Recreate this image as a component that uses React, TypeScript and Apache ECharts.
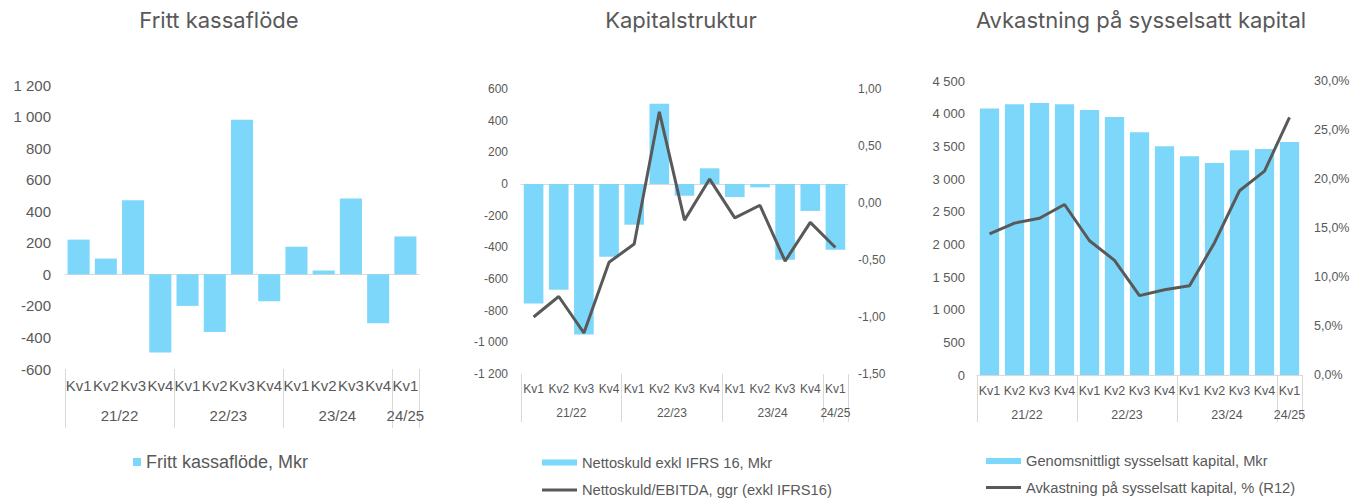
import React, { useEffect, useRef } from 'react';
import * as echarts from 'echarts';

const quarters = ['Kv1', 'Kv2', 'Kv3', 'Kv4', 'Kv1', 'Kv2', 'Kv3', 'Kv4', 'Kv1', 'Kv2', 'Kv3', 'Kv4', 'Kv1'];
const yearLabels = ['21/22', '22/23', '23/24', '24/25'];
const quartersPerYear = [4, 4, 4, 1];

const chartTitles = ['Fritt kassaflöde', 'Kapitalstruktur', 'Avkastning på sysselsatt kapital'];

const fcfName = 'Fritt kassaflöde, Mkr';
const fcf = [220, 100, 470, -495, -200, -365, 980, -170, 175, 25, 480, -310, 240];

const netDebtName = 'Nettoskuld exkl IFRS 16, Mkr';
const netDebt = [-755, -668, -950, -459, -257, 507, -74, 99, -82, -21, -478, -170, -415];
const ratioName = 'Nettoskuld/EBITDA, ggr (exkl IFRS16)';
const netDebtEbitda = [-1.0, -0.82, -1.14, -0.52, -0.36, 0.8, -0.15, 0.21, -0.13, -0.02, -0.51, -0.17, -0.39];

const capName = 'Genomsnittligt sysselsatt kapital, Mkr';
const capitalEmployed = [4080, 4145, 4165, 4145, 4055, 3950, 3715, 3500, 3350, 3245, 3440, 3460, 3565];
const roceName = 'Avkastning på sysselsatt kapital, % (R12)';
const roce = [14.4, 15.5, 16.0, 17.4, 13.7, 11.7, 8.1, 8.7, 9.1, 13.5, 18.8, 20.8, 26.3];

const BAR = '#7dd7fa';
const LINE = '#595959';
const TEXT = '#595959';
const AXIS = '#d9d9d9';
const FONT = '"Liberation Sans", Arial, sans-serif';
const TITLE_FONT = 'Inter, "Liberation Sans", sans-serif';

const boundaries: number[] = [0];
quartersPerYear.forEach((n) => boundaries.push(boundaries[boundaries.length - 1] + n));
const centers = quartersPerYear.map((n, i) => boundaries[i] + n / 2);

const fmtThousands = (v: number) =>
  (v < 0 ? '-' : '') + String(Math.abs(Math.round(v))).replace(/\B(?=(\d{3})+(?!\d))/g, ' ');

function xAxesFor(gridIndex: number, zeroY: number, fontSize: number, qMargin: number, yMargin: number, tickLen: number) {
  return [
    {
      gridIndex,
      type: 'category',
      data: quarters,
      position: 'bottom',
      axisLine: { show: true, onZero: true, onZeroAxisIndex: zeroY, lineStyle: { color: AXIS, width: 1 } },
      axisTick: { show: false },
      axisLabel: { show: false },
      splitLine: { show: false },
    },
    {
      gridIndex,
      type: 'category',
      data: quarters,
      position: 'bottom',
      axisLine: { show: false, onZero: false },
      axisTick: { show: false },
      splitLine: { show: false },
      axisLabel: { show: true, interval: 0, color: TEXT, fontSize, fontFamily: FONT, margin: qMargin },
    },
    {
      gridIndex,
      type: 'value',
      min: 0,
      max: quarters.length,
      position: 'bottom',
      axisLine: { show: false, onZero: false },
      splitLine: { show: false },
      axisTick: { show: true, customValues: boundaries, length: tickLen, inside: false, lineStyle: { color: AXIS, width: 1 } },
      axisLabel: {
        show: true,
        customValues: centers,
        formatter: (v: number) => {
          const i = centers.findIndex((c) => Math.abs(c - v) < 1e-6);
          return i >= 0 ? yearLabels[i] : '';
        },
        color: TEXT,
        fontSize,
        fontFamily: FONT,
        margin: yMargin,
      },
    },
  ];
}

function yAxis(gridIndex: number, min: number, max: number, interval: number, formatter: any, fontSize: number, margin: number, right = false) {
  return {
    gridIndex,
    type: 'value',
    position: right ? 'right' : 'left',
    min,
    max,
    interval,
    axisLine: { show: false },
    axisTick: { show: false },
    splitLine: { show: false },
    axisLabel: { formatter, color: TEXT, fontSize, fontFamily: FONT, margin, align: right ? 'left' : 'right' },
  };
}

function legendItem(name: string, left: number, top: number, w: number, h: number, fontSize: number, lineHeight: number) {
  return {
    data: [{ name, icon: 'rect' }],
    left,
    top,
    padding: 0,
    itemWidth: w,
    itemHeight: h,
    selectedMode: false,
    textStyle: { color: TEXT, fontSize, fontFamily: FONT, lineHeight },
  };
}

export default function App() {
  const ref = useRef<HTMLDivElement>(null);
  useEffect(() => {
    document.body.style.margin = '0';
    const chart = echarts.init(ref.current!, undefined, { renderer: 'svg' });
    const titleCenters = [219, 681, 1141];
    chart.setOption({
      animation: false,
      backgroundColor: '#ffffff',
      graphic: chartTitles.map((t, i) => ({
        type: 'text',
        x: titleCenters[i],
        y: 20,
        style: { text: t, fill: TEXT, fontSize: 22, fontFamily: TITLE_FONT, align: 'center', verticalAlign: 'middle' },
      })),
      grid: [
        { left: 65, top: 85, width: 354, height: 284, outerBoundsMode: 'none' },
        { left: 521, top: 89, width: 327, height: 285, outerBoundsMode: 'none' },
        { left: 977, top: 81, width: 325, height: 294, outerBoundsMode: 'none' },
      ],
      xAxis: [
        ...xAxesFor(0, 0, 15, 9, 39, 59),
        ...xAxesFor(1, 1, 12, 9, 33, 48),
        ...xAxesFor(2, 3, 12.5, 9, 33, 47),
      ],
      yAxis: [
        yAxis(0, -600, 1200, 200, fmtThousands, 15, 14),
        yAxis(1, -1200, 600, 200, fmtThousands, 12, 13),
        yAxis(1, -1.5, 1.0, 0.5, (v: number) => v.toFixed(2).replace('.', ','), 12, 10, true),
        yAxis(2, 0, 4500, 500, fmtThousands, 13, 12),
        yAxis(2, 0, 30, 5, (v: number) => v.toFixed(1).replace('.', ',') + '%', 12.5, 12, true),
      ],
      legend: [
        legendItem(fcfName, 133, 452, 8, 8, 18, 20),
        legendItem(netDebtName, 542, 454, 35, 6, 14.7, 17),
        legendItem(ratioName, 542, 481.5, 35, 3, 14.7, 17),
        legendItem(capName, 986, 452.5, 35, 6, 14.7, 17),
        legendItem(roceName, 986, 479, 35, 3, 14.7, 17),
      ],
      series: [
        { name: fcfName, type: 'bar', xAxisIndex: 0, yAxisIndex: 0, data: fcf, barCategoryGap: '19%', itemStyle: { color: BAR } },
        { name: netDebtName, type: 'bar', xAxisIndex: 3, yAxisIndex: 1, data: netDebt, barCategoryGap: '22%', itemStyle: { color: BAR } },
        {
          name: ratioName, type: 'line', xAxisIndex: 3, yAxisIndex: 2, data: netDebtEbitda, symbol: 'none', z: 5,
          lineStyle: { color: LINE, width: 3 }, itemStyle: { color: LINE },
        },
        { name: capName, type: 'bar', xAxisIndex: 6, yAxisIndex: 3, data: capitalEmployed, barCategoryGap: '23%', itemStyle: { color: BAR } },
        {
          name: roceName, type: 'line', xAxisIndex: 6, yAxisIndex: 4, data: roce, symbol: 'none', z: 5,
          lineStyle: { color: LINE, width: 3 }, itemStyle: { color: LINE },
        },
      ],
    });
    return () => chart.dispose();
  }, []);
  return <div ref={ref} style={{ width: 1362, height: 499 }} />;
}
